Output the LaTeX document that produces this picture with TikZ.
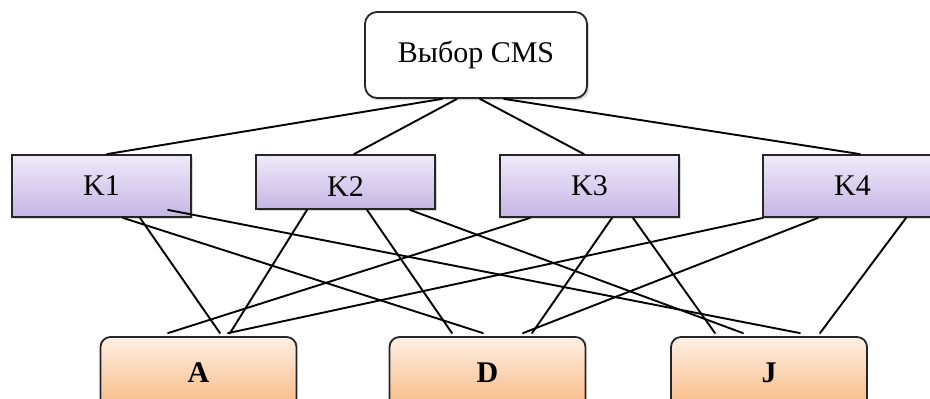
\documentclass[tikz,border=0pt]{standalone}
\usepackage{fontspec}
\setmainfont{Liberation Serif}
\usepackage{tikz}
\usetikzlibrary{calc,shadows}

\definecolor{critTop}{RGB}{239,234,249}
\definecolor{critBot}{RGB}{198,181,229}
\definecolor{altTop}{RGB}{253,240,228}
\definecolor{altBot}{RGB}{248,184,130}

\begin{document}
\begin{tikzpicture}[x=0.5pt,y=-0.5pt,
    every node/.style={font=\fontsize{15}{18}\selectfont,inner sep=0pt,draw=black!85,line width=0.9pt},
    boxshadow/.style={drop shadow={shadow xshift=1pt,shadow yshift=-1.2pt,fill=black!30}},
    goal/.style={rectangle,rounded corners=6pt,fill=white,boxshadow,minimum width=111pt,minimum height=43pt},
    crit/.style={rectangle,top color=critTop,bottom color=critBot,boxshadow,minimum width=89.5pt,minimum height=31pt},
    alt/.style={rectangle,rounded corners=5pt,top color=altTop,bottom color=altBot,minimum width=98pt,minimum height=36pt,font=\fontsize{15}{18}\selectfont\bfseries},
    link/.style={line width=0.95pt,line cap=round}]
    \useasboundingbox (0,0) rectangle (930,398);
    \clip (0,0) rectangle (930,398);

    \node[goal] (CMS) at (476,55) {Выбор CMS};

    \node[crit] (K1) at (101.5,186) {K1};
    \node[crit,minimum height=27pt,text height=14pt,text depth=0pt] (K2) at (345.5,182) {K2};
    \node[crit] (K3) at (589.5,186) {K3};
    \node[crit] (K4) at (852.5,186) {K4};

    \node[alt] (A) at (198.5,373) {A};
    \node[alt] (D) at (487.5,373) {D};
    \node[alt] (J) at (769,373) {J};

    % goal -> criteria
    \draw[link] ($(CMS.south)+(-34,0)$) -- ($(K1.north)+(5.5,0)$);
    \draw[link] ($(CMS.south)+(-19,0)$) -- ($(K2.north)+(8.5,0)$);
    \draw[link] ($(CMS.south)+(4,0)$) -- ($(K3.north)+(-5.5,0)$);
    \draw[link] ($(CMS.south)+(28,0)$) -- ($(K4.north)+(7.5,0)$);

    % criteria -> alternatives
    \draw[link] ($(K1.south)+(38.5,0)$) -- ($(A.north)+(21.5,-3)$);
    \draw[link] ($(K1.south)+(21.5,0)$) -- ($(D.north)+(-4.5,-3)$);
    \draw[link] ($(K1.south)+(66.5,-8)$) -- ($(J.north)+(31,-3)$);

    \draw[link] ($(K2.south)+(-38.5,0)$) -- ($(A.north)+(31.5,-3)$);
    \draw[link] ($(K2.south)+(21.5,0)$) -- ($(D.north)+(-35.5,-3)$);
    \draw[link] ($(K2.south)+(64.5,0)$) -- ($(J.north)+(-26,-3)$);

    \draw[link] ($(K3.south)+(-59.5,0)$) -- ($(A.north)+(-30.5,-3)$);
    \draw[link] ($(K3.south)+(22.5,0)$) -- ($(D.north)+(44.5,-3)$);
    \draw[link] ($(K3.south)+(43.5,0)$) -- ($(J.north)+(-54,-3)$);

    \draw[link] ($(K4.south)+(-89.5,0)$) -- ($(A.north)+(29.5,-3)$);
    \draw[link] ($(K4.south)+(-34.5,0)$) -- ($(D.north)+(35.5,-3)$);
    \draw[link] ($(K4.south)+(53.5,0)$) -- ($(J.north)+(51,-3)$);
\end{tikzpicture}
\end{document}
